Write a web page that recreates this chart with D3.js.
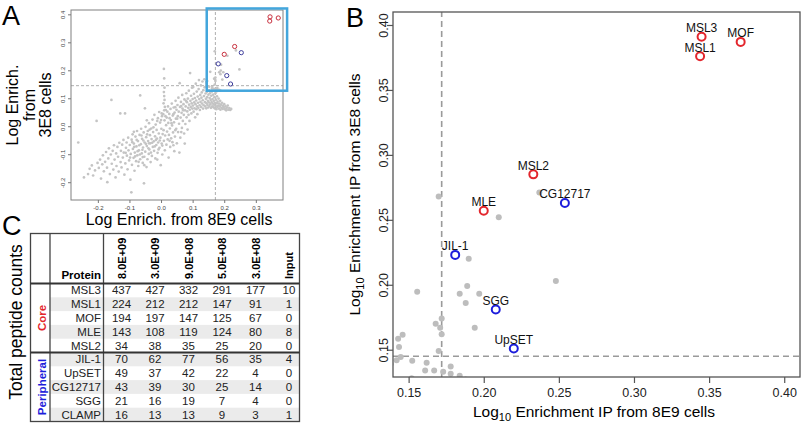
<!DOCTYPE html>
<html>
<head>
<meta charset="utf-8">
<script src="https://cdn.jsdelivr.net/npm/d3@7"></script>
<style>
  body { margin: 0; background: #fff; }
  svg { font-family: 'Liberation Sans', Arial, Helvetica, sans-serif; }
</style>
</head>
<body>
<svg id="fig" width="802" height="427"></svg>
<script>
// ---- data ----
var labelNames  = ["MSL3", "MOF", "MSL1", "MSL2", "CG12717", "MLE", "JIL-1", "SGG", "UpSET"];
var labelX      = [0.345, 0.371, 0.344, 0.233, 0.254, 0.200, 0.181, 0.208, 0.220];
var labelY      = [0.391, 0.387, 0.376, 0.285, 0.263, 0.257, 0.223, 0.181, 0.151];
var labelGroup  = ["core", "core", "core", "core", "peripheral", "core", "peripheral", "peripheral", "peripheral"];
var cutoffX = 0.172, cutoffY = 0.145;
var zoomBox = [0.1446, 0.399, 0.127, 0.421];   // x0, x1, y0, y1 of the blue box in panel A

var ticksAX = [-0.2, -0.1, 0.0, 0.1, 0.2, 0.3];
var ticksAY = [-0.2, -0.1, 0.0, 0.1, 0.2, 0.3, 0.4];
var ticksB  = [0.15, 0.20, 0.25, 0.30, 0.35, 0.40];

// all other proteins (grey)
var greyPoints = [
  // lower-left tail
  [-0.262,-0.058],[-0.244,-0.183],[-0.231,-0.171],[-0.226,-0.152],[-0.219,-0.140],[-0.215,-0.176],[-0.209,-0.158],
  [-0.204,0.019],[-0.201,-0.131],[-0.197,-0.149],[-0.193,-0.119],[-0.190,-0.187],[-0.186,-0.136],[-0.184,-0.104],
  [-0.181,-0.161],[-0.177,-0.127],[-0.174,-0.092],[-0.171,-0.148],[-0.170,-0.200],[-0.167,-0.115],[-0.165,-0.079],
  [-0.162,-0.171],[-0.159,-0.101],[-0.157,0.094],[-0.156,-0.134],[-0.153,-0.088],[-0.151,-0.155],[-0.149,-0.068],
  [-0.147,-0.119],[-0.144,-0.183],[-0.142,-0.097],[-0.141,-0.142],[-0.138,-0.074],[-0.136,-0.109],[-0.134,-0.162],
  [-0.132,-0.059],[-0.129,0.046],[-0.128,-0.128],[-0.127,-0.088],[-0.125,-0.147],[-0.123,-0.066],[-0.121,-0.112],
  [-0.119,-0.049],[-0.118,-0.094],[-0.116,-0.173],[-0.114,0.046],[-0.113,-0.133],[-0.111,-0.077],[-0.109,-0.058],
  [-0.108,-0.105],[-0.106,-0.154],[-0.104,-0.041],[-0.103,-0.086],[-0.101,-0.122],[-0.099,-0.067],[-0.097,-0.191],
  [-0.096,-0.099],[-0.094,-0.236],[-0.093,-0.048],[-0.092,-0.138],[-0.090,-0.029],[-0.089,-0.081],[-0.087,-0.113],
  [-0.086,-0.062],[-0.084,-0.159],[-0.083,-0.094],[-0.081,-0.037],[-0.079,-0.125],[-0.078,-0.072],[-0.076,-0.017],
  [-0.075,-0.104],[-0.073,-0.053],[-0.072,-0.142],[-0.070,-0.086],[-0.068,-0.031],[-0.066,0.110],[-0.066,-0.118],
  [-0.064,-0.064],[-0.063,-0.009],[-0.061,-0.097],[-0.060,-0.045],[-0.058,-0.131],[-0.057,-0.076],[-0.055,-0.022],
  [-0.054,-0.204],[-0.053,-0.109],[-0.052,-0.058],[-0.051,0.064],[-0.050,-0.091],[-0.049,-0.002],[-0.047,-0.039],
  [-0.046,-0.146],[-0.045,-0.071],[-0.043,-0.118],[-0.042,-0.017],[-0.041,-0.053],[-0.039,-0.099],[-0.038,0.011],
  [-0.037,-0.083],[-0.035,-0.032],[-0.034,-0.061],[-0.033,-0.128],[-0.031,-0.008],[-0.030,-0.046],[-0.029,-0.106],
  [-0.027,0.024],[-0.026,-0.074],[-0.025,-0.021],[-0.023,-0.054],[-0.022,-0.088],[-0.021,0.041],[-0.019,-0.036],
  [-0.018,-0.115],[-0.017,0.006],[-0.015,-0.067],[-0.014,-0.013],[-0.013,-0.044],[-0.011,-0.095],[-0.010,0.029],
  [-0.009,-0.058],[-0.007,-0.026],[-0.006,0.051],[-0.005,-0.077],[-0.003,0.013],[-0.002,-0.041],[-0.001,-0.139],
  [0.001,-0.009],[0.002,-0.062],[0.003,0.036],[0.004,-0.101],[0.005,-0.028],
  // denser centre
  [-0.112,-0.095],[-0.098,-0.112],[-0.091,-0.057],[-0.085,-0.074],[-0.082,-0.108],[-0.077,-0.049],[-0.074,-0.089],
  [-0.069,-0.068],[-0.067,-0.101],[-0.062,-0.033],[-0.059,-0.084],[-0.056,-0.051],[-0.053,-0.139],[-0.048,-0.063],
  [-0.044,-0.029],[-0.040,-0.079],[-0.036,-0.012],[-0.032,-0.094],[-0.028,-0.059],[-0.024,-0.004],[-0.020,-0.072],
  [-0.016,-0.049],[-0.012,0.019],[-0.008,-0.083],[-0.004,-0.051],[0.000,0.022],[0.004,-0.069],[-0.086,-0.020],
  [-0.071,-0.127],[-0.045,0.021],[-0.058,-0.110],[-0.038,-0.061],[-0.012,-0.119],[0.002,0.046],
  // vertical streak near x = 0.01
  [0.009,0.205],[0.010,0.171],[0.011,0.138],[0.009,0.122],[0.010,0.108],[0.011,0.094],[0.008,0.082],[0.012,0.069],
  [0.010,0.057],
  // middle
  [0.007,0.043],[0.008,-0.014],[0.009,-0.052],[0.011,0.021],[0.012,-0.086],[0.013,-0.033],[0.015,0.058],[0.016,0.004],
  [0.017,-0.066],[0.018,0.031],[0.019,-0.019],[0.021,-0.047],[0.022,0.071],[0.023,0.012],[0.024,-0.112],[0.025,-0.031],
  [0.026,0.044],[0.028,-0.008],[0.029,-0.074],[0.030,0.062],[0.031,0.022],[0.032,-0.043],[0.034,0.081],[0.035,0.003],
  [0.036,-0.057],[0.037,0.038],[0.038,-0.022],[0.040,0.067],[0.041,0.014],[0.042,-0.089],[0.043,0.049],[0.044,-0.037],
  [0.046,0.091],[0.047,0.027],[0.048,-0.009],[0.049,0.059],[0.050,-0.061],[0.052,0.076],[0.053,0.036],[0.054,-0.021],
  [0.055,0.102],[0.056,0.052],[0.057,0.009],[0.058,-0.094],[0.059,0.154],[0.060,0.069],[0.061,-0.041],[0.062,0.031],
  [0.063,0.087],[0.065,0.048],[0.066,-0.006],[0.067,0.112],[0.068,0.063],[0.069,0.019],[0.071,0.079],[0.072,0.041],
  [0.073,-0.026],[0.074,0.096],[0.075,-0.062],[0.076,0.057],[0.077,0.008],[0.078,0.071],[0.080,0.118],[0.081,0.032],
  [0.082,0.086],[0.083,0.053],[0.084,-0.012],[0.085,0.099],[0.086,0.066],[0.087,0.041],[0.088,0.127],[0.089,0.077],
  [0.090,0.019],[0.091,0.059],[0.092,0.190],[0.093,0.091],[0.094,0.069],[0.095,0.109],[0.096,0.046],[0.097,0.082],
  [0.098,0.138],[0.099,0.063],[0.100,0.097],[0.014,0.036],[0.020,0.052],[0.027,0.029],[0.033,0.011],[0.039,0.043],
  [0.045,0.068],[0.051,0.027],[0.064,0.072],[0.070,0.057],[0.079,0.091],[0.045,-0.014],[0.027,-0.052],[0.064,-0.021],
  [0.039,-0.068],
  // right arm
  [0.101,0.074],[0.102,0.140],[0.103,0.052],[0.104,0.116],[0.105,0.085],[0.106,0.064],[0.107,0.101],[0.108,0.032],
  [0.109,0.079],[0.110,0.152],[0.111,0.092],[0.112,0.061],[0.113,0.124],[0.114,0.071],[0.115,0.043],[0.116,0.106],
  [0.117,0.084],[0.118,0.066],[0.119,0.133],[0.120,0.165],[0.121,0.097],[0.122,0.075],[0.123,0.058],[0.124,0.112],
  [0.125,0.087],[0.126,0.146],[0.127,0.069],[0.128,0.102],[0.129,0.121],[0.130,0.081],[0.131,0.160],[0.132,0.093],
  [0.133,0.063],[0.134,0.129],[0.135,0.075],[0.136,0.108],[0.137,0.168],[0.138,0.139],[0.139,0.086],[0.140,0.071],
  [0.141,0.117],[0.142,0.098],[0.143,0.064],[0.144,0.082],[0.145,0.123],[0.146,0.104],[0.147,0.076],[0.148,0.091],
  [0.149,0.067],[0.150,0.113],[0.151,0.085],[0.152,0.128],[0.153,0.072],[0.154,0.101],[0.155,0.118],[0.156,0.079],
  [0.157,0.094],[0.158,0.066],[0.159,0.109],[0.160,0.086],[0.161,0.124],[0.162,0.071],[0.163,0.097],[0.164,0.081],
  [0.165,0.113],[0.166,0.068],[0.167,0.091],[0.168,0.077],[0.169,0.104],[0.170,0.064],[0.171,0.084],[0.172,0.118],
  [0.173,0.072],[0.174,0.095],[0.175,0.061],[0.176,0.082],[0.177,0.107],[0.178,0.069],[0.179,0.088],[0.181,0.074],
  [0.182,0.099],[0.183,0.063],[0.184,0.081],[0.186,0.071],[0.187,0.091],[0.188,0.059],[0.190,0.077],[0.191,0.066],
  [0.193,0.084],[0.195,0.062],[0.196,0.073],[0.198,0.068],[0.200,0.079],[0.202,0.061],[0.204,0.071],[0.206,0.057],
  [0.208,0.066],[0.211,0.074],[0.213,0.059],[0.216,0.065],[0.219,0.058],[0.222,0.062],
  // inside the zoomed region (panel B)
  [0.237,0.271],[0.210,0.252],[0.170,0.268],[0.190,0.220],[0.248,0.203],[0.189,0.199],[0.184,0.193],[0.197,0.193],
  [0.188,0.186],[0.194,0.167],[0.172,0.174],[0.171,0.167],[0.172,0.162],[0.168,0.170],[0.170,0.149],[0.162,0.140],
  [0.161,0.134],[0.167,0.134],[0.173,0.133],[0.178,0.137],[0.178,0.1315],[0.184,0.130],[0.143,0.1585],[0.146,0.1615],
  [0.1436,0.152],[0.1447,0.1444],[0.142,0.1418],[0.1524,0.1415],[0.1557,0.1946],[0.188,0.127],[0.176,0.125]
];

// panel C table
var proteins = ["MSL3", "MSL1", "MOF", "MLE", "MSL2", "JIL-1", "UpSET", "CG12717", "SGG", "CLAMP"];
var cellCounts = ["8.0E+09", "3.0E+09", "9.0E+08", "5.0E+08", "3.0E+08", "Input"];
var countsMSL3    = [437, 427, 332, 291, 177, 10];
var countsMSL1    = [224, 212, 212, 147, 91, 1];
var countsMOF     = [194, 197, 147, 125, 67, 0];
var countsMLE     = [143, 108, 119, 124, 80, 8];
var countsMSL2    = [34, 38, 35, 25, 20, 0];
var countsJIL1    = [70, 62, 77, 56, 35, 4];
var countsUpSET   = [49, 37, 42, 22, 4, 0];
var countsCG12717 = [43, 39, 30, 25, 14, 0];
var countsSGG     = [21, 16, 19, 7, 4, 0];
var countsCLAMP   = [16, 13, 13, 9, 3, 1];

;(function (d3) {
  'use strict';

  var RED = "#e3262d", BLUE = "#1d1ddb", GREY = "#bdbdbd";
  var svg = d3.select("#fig");

  var labelled = labelNames.map(function (n, i) {
    return { name: n, x: labelX[i], y: labelY[i], group: labelGroup[i] };
  });

  var rotateTicks = function (g, offset) {
    g.selectAll(".tick text")
      .attr("transform", "rotate(-90)")
      .attr("x", 0).attr("y", -offset).attr("dy", 0)
      .style("text-anchor", "middle");
  };

  // ================= panel A =================
  var ax = d3.scaleLinear().domain([-0.285, 0.386]).range([71, 283]);
  var ay = d3.scaleLinear().domain([-0.2636, 0.4155]).range([200, 10]);
  var gA = svg.append("g");

  gA.append("line")
    .attr("x1", ax(cutoffX)).attr("x2", ax(cutoffX))
    .attr("y1", ay.range()[0]).attr("y2", ay.range()[1])
    .attr("stroke", "#999").attr("stroke-width", 0.8).attr("stroke-dasharray", "3,2");
  gA.append("line")
    .attr("x1", ax.range()[0]).attr("x2", ax.range()[1])
    .attr("y1", ay(cutoffY)).attr("y2", ay(cutoffY))
    .attr("stroke", "#999").attr("stroke-width", 0.8).attr("stroke-dasharray", "3,2");

  gA.selectAll("circle.grey").data(greyPoints).enter().append("circle")
    .attr("class", "grey")
    .attr("cx", function (d) { return ax(d[0]); })
    .attr("cy", function (d) { return ay(d[1]); })
    .attr("r", 1.35).attr("fill", "#c4c4c4");

  gA.selectAll("circle.lab").data(labelled).enter().append("circle")
    .attr("class", "lab")
    .attr("cx", function (d) { return ax(d.x); })
    .attr("cy", function (d) { return ay(d.y); })
    .attr("r", 2.1).attr("fill", "none").attr("stroke-width", 1)
    .attr("stroke", function (d) { return d.group === "core" ? "#c8303e" : "#3e3e9c"; });

  gA.append("rect")
    .attr("x", 71).attr("y", 10)
    .attr("width", ax.range()[1] - ax.range()[0]).attr("height", ay.range()[0] - ay.range()[1])
    .attr("fill", "none").attr("stroke", "#808080").attr("stroke-width", 1);

  gA.append("rect")
    .attr("x", ax(zoomBox[0])).attr("y", ay(zoomBox[3]))
    .attr("width", ax(zoomBox[1]) - ax(zoomBox[0]))
    .attr("height", ay(zoomBox[2]) - ay(zoomBox[3]))
    .attr("fill", "none").attr("stroke", "#43a6dc").attr("stroke-width", 2.5);

  var axA = gA.append("g").attr("transform", "translate(0,200)")
    .call(d3.axisBottom(ax).tickValues(ticksAX).tickSize(3).tickPadding(3)
      .tickFormat(function (d) { return d.toFixed(1); }));
  var ayA = gA.append("g").attr("transform", "translate(71,0)")
    .call(d3.axisLeft(ay).tickValues(ticksAY).tickSize(3)
      .tickFormat(function (d) { return d.toFixed(1); }));
  rotateTicks(ayA, 6);
  [axA, ayA].forEach(function (g) {
    g.select(".domain").remove();
    g.selectAll(".tick line").attr("stroke", "#777");
    g.selectAll(".tick text").attr("font-size", 6).attr("fill", "#444")
      .attr("font-family", "'Liberation Sans', Arial, sans-serif");
  });

  ["Log Enrich.", "from", "3E8 cells"].forEach(function (t, i) {
    gA.append("text")
      .attr("transform", "translate(" + (18 + i * 16.5) + ",105) rotate(-90)")
      .attr("text-anchor", "middle").attr("font-size", 16).text(t);
  });
  gA.append("text").attr("x", 179).attr("y", 225)
    .attr("text-anchor", "middle").attr("font-size", 16).text("Log Enrich. from 8E9 cells");
  gA.append("text").attr("x", 2).attr("y", 25).attr("font-size", 27).text("A");

  // ================= panel B =================
  var bx = d3.scaleLinear().domain([0.1396, 0.4105]).range([393, 800]);
  var by = d3.scaleLinear().domain([0.129, 0.41]).range([377, 12]);
  var gB = svg.append("g");

  svg.append("clipPath").attr("id", "clipB").append("rect")
    .attr("x", 393).attr("y", 12).attr("width", 407).attr("height", 365);
  var plotB = gB.append("g").attr("clip-path", "url(#clipB)");

  plotB.append("line")
    .attr("x1", bx(cutoffX)).attr("x2", bx(cutoffX))
    .attr("y1", by.range()[0]).attr("y2", by.range()[1])
    .attr("stroke", "#9a9a9a").attr("stroke-width", 1.6).attr("stroke-dasharray", "6,4");
  plotB.append("line")
    .attr("x1", bx.range()[0]).attr("x2", bx.range()[1])
    .attr("y1", by(cutoffY)).attr("y2", by(cutoffY))
    .attr("stroke", "#9a9a9a").attr("stroke-width", 1.6).attr("stroke-dasharray", "6,4");

  plotB.selectAll("circle.grey").data(greyPoints).enter().append("circle")
    .attr("class", "grey")
    .attr("cx", function (d) { return bx(d[0]); })
    .attr("cy", function (d) { return by(d[1]); })
    .attr("r", 3).attr("fill", GREY);

  plotB.selectAll("circle.lab").data(labelled).enter().append("circle")
    .attr("class", "lab")
    .attr("cx", function (d) { return bx(d.x); })
    .attr("cy", function (d) { return by(d.y); })
    .attr("r", 4).attr("fill", "#fff").attr("stroke-width", 2)
    .attr("stroke", function (d) { return d.group === "core" ? RED : BLUE; });

  plotB.selectAll("text.lab").data(labelled).enter().append("text")
    .attr("class", "lab")
    .attr("x", function (d) { return bx(d.x); })
    .attr("y", function (d) { return by(d.y) - 4.5; })
    .attr("text-anchor", "middle").attr("font-size", 12).attr("fill", "#111")
    .text(function (d) { return d.name; });

  gB.append("rect").attr("x", 393).attr("y", 12).attr("width", 407).attr("height", 365)
    .attr("fill", "none").attr("stroke", "#555").attr("stroke-width", 1.3);

  var axB = gB.append("g").attr("transform", "translate(0,377)")
    .call(d3.axisBottom(bx).tickValues(ticksB).tickSize(6).tickPadding(5)
      .tickFormat(function (d) { return d.toFixed(2); }));
  var ayB = gB.append("g").attr("transform", "translate(393,0)")
    .call(d3.axisLeft(by).tickValues(ticksB).tickSize(6)
      .tickFormat(function (d) { return d.toFixed(2); }));
  rotateTicks(ayB, 5.5);
  [axB, ayB].forEach(function (g) {
    g.select(".domain").remove();
    g.selectAll(".tick line").attr("stroke", "#555").attr("stroke-width", 1.2);
    g.selectAll(".tick text").attr("font-size", 12.5).attr("fill", "#222")
      .attr("font-family", "'Liberation Sans', Arial, sans-serif");
  });

  var xt = gB.append("text").attr("x", 594).attr("y", 417)
    .attr("text-anchor", "middle").attr("font-size", 15.5);
  xt.append("tspan").text("Log");
  xt.append("tspan").attr("font-size", 11).attr("dy", 4).text("10");
  xt.append("tspan").attr("dy", -4).text(" Enrichment IP from 8E9 cells");

  var yt = gB.append("text")
    .attr("transform", "translate(360,194.5) rotate(-90)")
    .attr("text-anchor", "middle").attr("font-size", 15.5);
  yt.append("tspan").text("Log");
  yt.append("tspan").attr("font-size", 11).attr("dy", 4).text("10");
  yt.append("tspan").attr("dy", -4).text(" Enrichment IP from 3E8 cells");

  gB.append("text").attr("x", 346).attr("y", 27).attr("font-size", 27).text("B");

  // ================= panel C =================
  var table = [countsMSL3, countsMSL1, countsMOF, countsMLE, countsMSL2,
               countsJIL1, countsUpSET, countsCG12717, countsSGG, countsCLAMP];
  var rows = d3.scaleBand().domain(proteins).range([283.5, 421.5]);
  var cols = d3.scalePoint().domain(cellCounts).range([121.5, 289]);
  var gC = svg.append("g");
  var L = 30.5, R = 299.5, T = 233.5, B = 421.5;

  gC.selectAll("rect.shade").data(proteins.filter(function (p, i) { return i % 2 === 1; }))
    .enter().append("rect").attr("class", "shade")
    .attr("x", 50).attr("width", R - 50)
    .attr("y", function (p) { return rows(p); }).attr("height", rows.bandwidth())
    .attr("fill", "#ebebeb");

  gC.append("rect").attr("x", L).attr("y", T).attr("width", R - L).attr("height", B - T)
    .attr("fill", "none").attr("stroke", "#444").attr("stroke-width", 1.3);
  [50, 103.5].forEach(function (x) {
    gC.append("line").attr("x1", x).attr("x2", x).attr("y1", T).attr("y2", B)
      .attr("stroke", "#444").attr("stroke-width", 1.3);
  });
  [rows.range()[0], rows("JIL-1")].forEach(function (y) {
    gC.append("line").attr("x1", L).attr("x2", R).attr("y1", y).attr("y2", y)
      .attr("stroke", "#333").attr("stroke-width", 2);
  });

  proteins.forEach(function (p, i) {
    var yb = rows(p) + rows.bandwidth() / 2 + 4;
    gC.append("text").attr("x", 101).attr("y", yb)
      .attr("text-anchor", "end").attr("font-size", 11.5).attr("fill", "#222").text(p);
    gC.selectAll(null).data(table[i]).enter().append("text")
      .attr("x", function (v, j) { return cols(cellCounts[j]); })
      .attr("y", yb)
      .attr("text-anchor", "middle").attr("font-size", 11.5).attr("fill", "#222")
      .text(function (v) { return v; });
  });

  gC.append("text").attr("x", 101).attr("y", 279)
    .attr("text-anchor", "end").attr("font-size", 11.5).attr("font-weight", "bold").text("Protein");
  gC.selectAll("text.colhead").data(cellCounts).enter().append("text")
    .attr("class", "colhead")
    .attr("transform", function (c) { return "translate(" + (cols(c) + 4) + ",279) rotate(-90)"; })
    .attr("font-size", 11).attr("font-weight", "bold").text(function (c) { return c; });

  var coreMid = (rows("MSL3") + rows("MSL2") + rows.bandwidth()) / 2;
  var periMid = (rows("JIL-1") + rows("CLAMP") + rows.bandwidth()) / 2;
  gC.append("text").attr("transform", "translate(46," + coreMid + ") rotate(-90)")
    .attr("text-anchor", "middle").attr("font-size", 11.5).attr("font-weight", "bold")
    .attr("fill", RED).text("Core");
  gC.append("text").attr("transform", "translate(46," + periMid + ") rotate(-90)")
    .attr("text-anchor", "middle").attr("font-size", 11.5).attr("font-weight", "bold")
    .attr("fill", BLUE).text("Peripheral");

  gC.append("text").attr("transform", "translate(21.5,322) rotate(-90)")
    .attr("text-anchor", "middle").attr("font-size", 17.5).text("Total peptide counts");
  gC.append("text").attr("x", 2).attr("y", 235).attr("font-size", 27).text("C");

})(d3);
</script>
</body>
</html>
